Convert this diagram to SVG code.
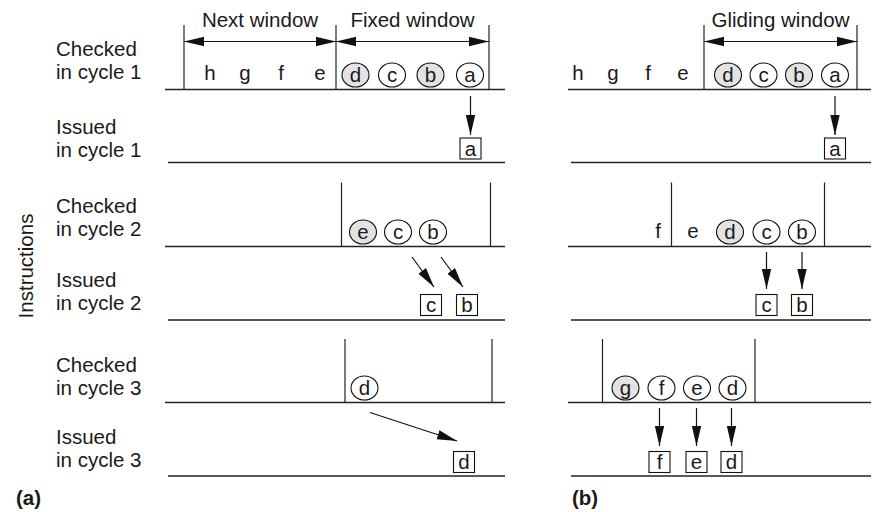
<svg xmlns="http://www.w3.org/2000/svg" width="872" height="512" viewBox="0 0 872 512">
<defs>
<marker id="ah" markerUnits="userSpaceOnUse" markerWidth="21" markerHeight="10" refX="20" refY="5" orient="auto-start-reverse">
<path d="M0,0.3 L20,5 L0,9.7 z" fill="#111"/>
</marker>
</defs>
<style>
text{font-family:"Liberation Sans",Arial,sans-serif;font-size:20.5px;fill:#1a1a1a}
.m{text-anchor:middle}
.b{font-weight:bold}
.h{stroke:#222;stroke-width:1.4;fill:none}
.v{stroke:#222;stroke-width:1.2;fill:none}
.c{fill:#fff;stroke:#111;stroke-width:1.1}
.s{fill:#e3e3e3;stroke:#111;stroke-width:1.1}
.bx{fill:#fff;stroke:#111;stroke-width:1.1}
.ar{stroke:#111;stroke-width:1.2;fill:none;marker-end:url(#ah)}
.dar{stroke:#111;stroke-width:1.2;fill:none;marker-start:url(#ah);marker-end:url(#ah)}
</style>
<rect width="872" height="512" fill="#fff"/>

<g id="labels">
<text x="56" y="56">Checked</text><text x="56" y="79">in cycle 1</text>
<text x="56" y="134">Issued</text><text x="56" y="157">in cycle 1</text>
<text x="56" y="213">Checked</text><text x="56" y="236">in cycle 2</text>
<text x="56" y="287">Issued</text><text x="56" y="310">in cycle 2</text>
<text x="56" y="372">Checked</text><text x="56" y="395">in cycle 3</text>
<text x="56" y="444">Issued</text><text x="56" y="467">in cycle 3</text>
<text class="m" transform="translate(33,266) rotate(-90)">Instructions</text>
<text class="b" x="16" y="505">(a)</text>
<text class="b" x="572" y="505">(b)</text>
</g>

<g id="rows">
<line class="h" x1="165" y1="89.5" x2="505" y2="89.5"/>
<line class="h" x1="168" y1="162.5" x2="505" y2="162.5"/>
<line class="h" x1="165" y1="246.5" x2="505" y2="246.5"/>
<line class="h" x1="168" y1="320" x2="505" y2="320"/>
<line class="h" x1="165" y1="402.5" x2="505" y2="402.5"/>
<line class="h" x1="168" y1="476" x2="505" y2="476"/>
<line class="h" x1="568" y1="89.5" x2="871" y2="89.5"/>
<line class="h" x1="571" y1="162.5" x2="871" y2="162.5"/>
<line class="h" x1="568" y1="246.5" x2="871" y2="246.5"/>
<line class="h" x1="571" y1="320" x2="871" y2="320"/>
<line class="h" x1="568" y1="402.5" x2="871" y2="402.5"/>
<line class="h" x1="571" y1="476" x2="871" y2="476"/>
</g>

<g id="windows">
<line class="v" x1="184" y1="25" x2="184" y2="89.5"/>
<line class="v" x1="336" y1="25" x2="336" y2="89.5"/>
<line class="v" x1="489" y1="25" x2="489" y2="89.5"/>
<text class="m" x="260" y="27">Next window</text>
<text class="m" x="412.5" y="27">Fixed window</text>
<line class="v" x1="704" y1="25" x2="704" y2="89.5"/>
<line class="v" x1="857" y1="25" x2="857" y2="89.5"/>
<text class="m" x="780.5" y="27">Gliding window</text>
<line class="v" x1="341.5" y1="182.5" x2="341.5" y2="246.5"/>
<line class="v" x1="490.5" y1="182.5" x2="490.5" y2="246.5"/>
<line class="v" x1="671.5" y1="182.5" x2="671.5" y2="246.5"/>
<line class="v" x1="824.5" y1="182.5" x2="824.5" y2="246.5"/>
<line class="v" x1="345" y1="339" x2="345" y2="402.5"/>
<line class="v" x1="492" y1="339" x2="492" y2="402.5"/>
<line class="v" x1="602.5" y1="339" x2="602.5" y2="402.5"/>
<line class="v" x1="755" y1="339" x2="755" y2="402.5"/>
</g>

<g id="a-cycle1-checked">
<text class="m" x="210" y="80">h</text>
<text class="m" x="245" y="80">g</text>
<text class="m" x="281" y="80">f</text>
<text class="m" x="320" y="80">e</text>
<ellipse class="s" cx="355.5" cy="75" rx="13.5" ry="12"/><text class="m" x="355.5" y="81.5">d</text>
<ellipse class="c" cx="392" cy="75" rx="13.5" ry="12"/><text class="m" x="392" y="81.5">c</text>
<ellipse class="s" cx="430.5" cy="75" rx="13.5" ry="12"/><text class="m" x="430.5" y="81.5">b</text>
<ellipse class="c" cx="470" cy="75" rx="13.5" ry="12"/><text class="m" x="470" y="81.5">a</text>
</g>
<g id="a-cycle1-issued">
<rect class="bx" x="460" y="138" width="21" height="21"/><text class="m" x="470.5" y="155.5">a</text>
</g>
<g id="a-cycle2-checked">
<ellipse class="s" cx="363" cy="232" rx="13.5" ry="12"/><text class="m" x="363" y="238.5">e</text>
<ellipse class="c" cx="398" cy="232" rx="13.5" ry="12"/><text class="m" x="398" y="238.5">c</text>
<ellipse class="c" cx="433" cy="232" rx="13.5" ry="12"/><text class="m" x="433" y="238.5">b</text>
</g>
<g id="a-cycle2-issued">
<rect class="bx" x="420.5" y="294.5" width="21" height="21"/><text class="m" x="431" y="312">c</text>
<rect class="bx" x="456.5" y="294.5" width="21" height="21"/><text class="m" x="467" y="312">b</text>
</g>
<g id="a-cycle3-checked">
<ellipse class="c" cx="364.5" cy="388" rx="13.5" ry="12"/><text class="m" x="364.5" y="394.5">d</text>
</g>
<g id="a-cycle3-issued">
<rect class="bx" x="453.5" y="451.5" width="21" height="21"/><text class="m" x="464" y="469">d</text>
</g>

<g id="b-cycle1-checked">
<text class="m" x="578" y="80">h</text>
<text class="m" x="613" y="80">g</text>
<text class="m" x="648" y="80">f</text>
<text class="m" x="683" y="80">e</text>
<ellipse class="s" cx="728" cy="75" rx="13.5" ry="12"/><text class="m" x="728" y="81.5">d</text>
<ellipse class="c" cx="763.5" cy="75" rx="13.5" ry="12"/><text class="m" x="763.5" y="81.5">c</text>
<ellipse class="s" cx="799" cy="75" rx="13.5" ry="12"/><text class="m" x="799" y="81.5">b</text>
<ellipse class="c" cx="835" cy="75" rx="13.5" ry="12"/><text class="m" x="835" y="81.5">a</text>
</g>
<g id="b-cycle1-issued">
<rect class="bx" x="824.5" y="138" width="21" height="21"/><text class="m" x="835" y="155.5">a</text>
</g>
<g id="b-cycle2-checked">
<text class="m" x="658" y="238">f</text>
<text class="m" x="693" y="238">e</text>
<ellipse class="s" cx="730" cy="232" rx="13.5" ry="12"/><text class="m" x="730" y="238.5">d</text>
<ellipse class="c" cx="766.5" cy="232" rx="13.5" ry="12"/><text class="m" x="766.5" y="238.5">c</text>
<ellipse class="c" cx="802" cy="232" rx="13.5" ry="12"/><text class="m" x="802" y="238.5">b</text>
</g>
<g id="b-cycle2-issued">
<rect class="bx" x="756" y="294.5" width="21" height="21"/><text class="m" x="766.5" y="312">c</text>
<rect class="bx" x="791.5" y="294.5" width="21" height="21"/><text class="m" x="802" y="312">b</text>
</g>
<g id="b-cycle3-checked">
<ellipse class="s" cx="625.5" cy="388" rx="13.5" ry="12"/><text class="m" x="625.5" y="394.5">g</text>
<ellipse class="c" cx="661.5" cy="388" rx="13.5" ry="12"/><text class="m" x="661.5" y="394.5">f</text>
<ellipse class="c" cx="697" cy="388" rx="13.5" ry="12"/><text class="m" x="697" y="394.5">e</text>
<ellipse class="c" cx="732.5" cy="388" rx="13.5" ry="12"/><text class="m" x="732.5" y="394.5">d</text>
</g>
<g id="b-cycle3-issued">
<rect class="bx" x="649" y="451.5" width="21" height="21"/><text class="m" x="659.5" y="469">f</text>
<rect class="bx" x="686" y="451.5" width="21" height="21"/><text class="m" x="696.5" y="469">e</text>
<rect class="bx" x="721" y="451.5" width="21" height="21"/><text class="m" x="731.5" y="469">d</text>
</g>

<g id="connectors">
<line class="dar" x1="184" y1="41.5" x2="336" y2="41.5"/>
<line class="dar" x1="336" y1="41.5" x2="489" y2="41.5"/>
<line class="dar" x1="704" y1="41.5" x2="857" y2="41.5"/>
<line class="ar" x1="470.5" y1="96" x2="470.5" y2="135"/>
<line class="ar" x1="835" y1="96" x2="835" y2="135"/>
<line class="ar" x1="412" y1="257" x2="434" y2="287"/>
<line class="ar" x1="441" y1="257" x2="463" y2="287"/>
<line class="ar" x1="766.5" y1="252" x2="766.5" y2="289"/>
<line class="ar" x1="802" y1="252" x2="802" y2="289"/>
<line class="ar" x1="370" y1="412.5" x2="457" y2="441"/>
<line class="ar" x1="659.5" y1="408" x2="659.5" y2="446"/>
<line class="ar" x1="696.5" y1="408" x2="696.5" y2="446"/>
<line class="ar" x1="731.5" y1="408" x2="731.5" y2="446"/>
</g>
</svg>
